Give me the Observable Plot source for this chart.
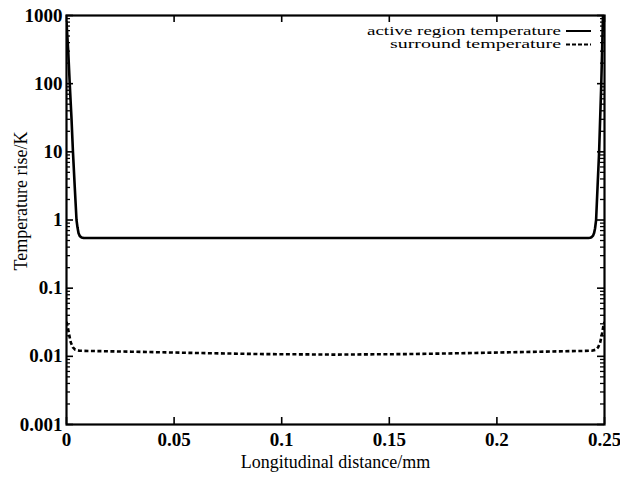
<!DOCTYPE html>
<html><head><meta charset="utf-8">
<script src="https://cdn.jsdelivr.net/npm/d3@7"></script>
<script src="https://cdn.jsdelivr.net/npm/@observablehq/plot@0.6"></script>
<style>
html,body{margin:0;padding:0;background:#fff}
#wrap{position:relative;width:620px;height:479px}
#legend{position:absolute;left:0;top:0}
</style></head><body><div id="wrap"></div>
<script>
// Active region temperature (K) vs longitudinal distance (mm)
const activeX = [0, 0.0008, 0.0015, 0.0023, 0.003, 0.0038, 0.00465, 0.0051, 0.0056, 0.0062, 0.007, 0.008, 0.02, 0.06, 0.125, 0.19, 0.23, 0.2425, 0.2433, 0.244, 0.2447, 0.2452, 0.2456, 0.2461, 0.2468, 0.2475, 0.248, 0.2485, 0.2493, 0.25];
const activeT = [800, 300, 100, 32, 10, 3.2, 1.0, 0.78, 0.64, 0.58, 0.555, 0.545, 0.545, 0.545, 0.545, 0.545, 0.545, 0.545, 0.55, 0.56, 0.59, 0.65, 0.75, 1.0, 3.2, 10, 32, 100, 1000, 2000];
// Surround temperature (K)
const surroundX = [0, 0.0006, 0.0012, 0.002, 0.003, 0.004, 0.006, 0.01, 0.03, 0.06, 0.09, 0.125, 0.16, 0.19, 0.22, 0.24, 0.244, 0.246, 0.247, 0.248, 0.2488, 0.2494, 0.25];
const surroundT = [0.032, 0.027, 0.021, 0.016, 0.0135, 0.0125, 0.0121, 0.012, 0.0117, 0.0112, 0.0108, 0.0106, 0.0108, 0.0112, 0.0117, 0.012, 0.0121, 0.0125, 0.0135, 0.016, 0.021, 0.027, 0.032];
const seriesNames = ["active region temperature", "surround temperature"];
const xTicks = [0, 0.05, 0.1, 0.15, 0.2, 0.25];
const xTickLabels = ["0", "0.05", "0.1", "0.15", "0.2", "0.25"];
const yTicks = [0.001, 0.01, 0.1, 1, 10, 100, 1000];
const yTickLabels = ["0.001", "0.01", "0.1", "1", "10", "100", "1000"];
const xTitle = "Longitudinal distance/mm";
const yTitle = "Temperature rise/K";

const active = activeX.map((x, i) => ({x, y: activeT[i]}));
const surround = surroundX.map((x, i) => ({x, y: surroundT[i]}));
const minorY = yTicks.slice(0, -1).flatMap(d => d3.range(2, 10).map(k => d * k));

const W = 620, H = 479, mL = 66, mR = 16, mT = 15, mB = 55;
const pw = W - mL - mR, ph = H - mT - mB;
const font = "Liberation Serif, Times New Roman, serif";

const chart = Plot.plot({
  width: W, height: H,
  marginLeft: mL, marginRight: mR, marginTop: mT, marginBottom: mB,
  style: {fontFamily: font, background: "#fff", color: "#000"},
  x: {domain: [0, 0.25], axis: null},
  y: {type: "log", domain: [0.001, 1000], axis: null},
  marks: [
    Plot.line(active, {x: "x", y: "y", stroke: "#000", strokeWidth: 2.6, clip: true}),
    Plot.line(surround, {x: "x", y: "y", stroke: "#000", strokeWidth: 2.6, strokeDasharray: "4,2.5", strokeLinecap: "butt", clip: true}),
    // inward ticks
    Plot.ruleY(yTicks, {y: d => d, insetRight: pw - 7, strokeWidth: 1.6}),
    Plot.ruleY(yTicks, {y: d => d, insetLeft: pw - 7, strokeWidth: 1.6}),
    Plot.ruleY(minorY, {y: d => d, insetRight: pw - 4, strokeWidth: 1.3}),
    Plot.ruleY(minorY, {y: d => d, insetLeft: pw - 4, strokeWidth: 1.3}),
    Plot.ruleX(xTicks, {x: d => d, insetTop: ph - 7, strokeWidth: 1.6}),
    Plot.ruleX(xTicks, {x: d => d, insetBottom: ph - 7, strokeWidth: 1.6}),
    Plot.frame({stroke: "#000", strokeWidth: 2.2}),
    // tick labels
    Plot.text(xTicks, {x: d => d, text: (d, i) => xTickLabels[i], frameAnchor: "bottom", dy: 15, lineAnchor: "middle", fontSize: 19, fontWeight: "bold", fill: "#000"}),
    Plot.text(yTicks, {y: d => d, text: (d, i) => yTickLabels[i], frameAnchor: "left", dx: -4, textAnchor: "end", lineAnchor: "middle", fontSize: 19, fontWeight: "bold", fill: "#000"}),
    // titles
    Plot.text([xTitle], {text: d => d, frameAnchor: "bottom", dy: 38, lineAnchor: "middle", fontSize: 18, fill: "#000"}),
    Plot.text([yTitle], {text: d => d, frameAnchor: "left", dx: -45, dy: -19, rotate: -90, textAnchor: "middle", lineAnchor: "middle", fontSize: 18, fill: "#000"})
  ]
});
const wrap = document.getElementById("wrap");
wrap.appendChild(chart);

// legend overlay
const lg = d3.select(wrap).append("svg").attr("id", "legend").attr("width", W).attr("height", 60);
const rows = [
  {name: seriesNames[0], dash: null, y: 31, len: 194},
  {name: seriesNames[1], dash: "4,2", y: 44.5, len: 171}
];
rows.forEach(r => {
  lg.append("text").attr("x", 561).attr("y", r.y).attr("dy", "0.32em").attr("text-anchor", "end")
    .attr("font-family", font).attr("font-size", 11.5).attr("fill", "#000")
    .attr("textLength", r.len).attr("lengthAdjust", "spacingAndGlyphs").text(r.name);
  lg.append("line").attr("x1", 566).attr("x2", 591).attr("y1", r.y).attr("y2", r.y)
    .attr("stroke", "#000").attr("stroke-width", 2).attr("stroke-dasharray", r.dash);
});
</script>
</body></html>
